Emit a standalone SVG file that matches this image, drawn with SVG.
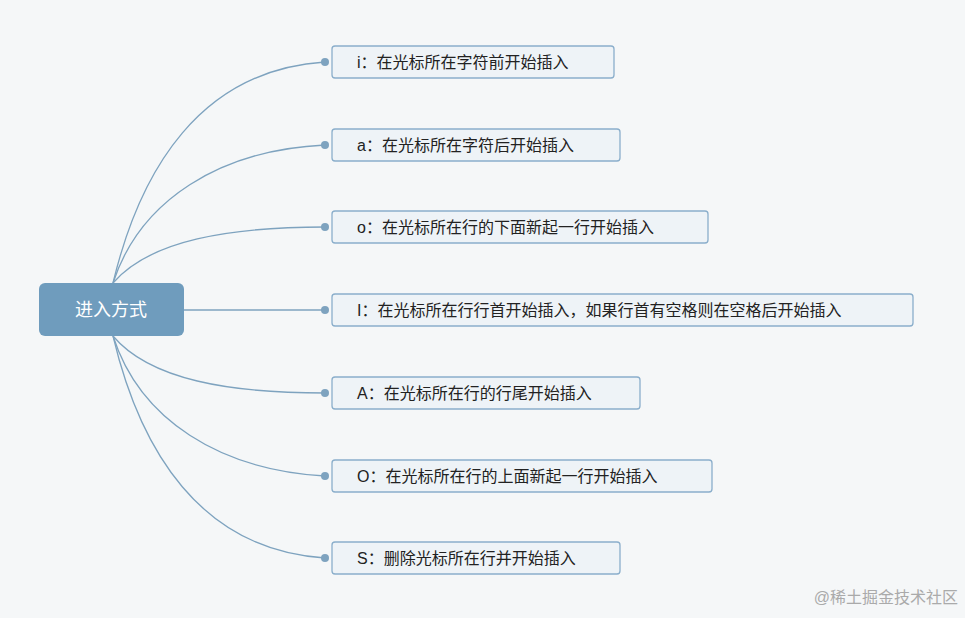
<svg xmlns="http://www.w3.org/2000/svg" width="965" height="618" viewBox="0 0 965 618">
<style>
.bg{fill:#f5f7f8}
.c{fill:none;stroke:#7ea3bf;stroke-width:1.3}
.d{fill:#7ea3bf}
.n rect{fill:#eef3f7;stroke:#8aaecb;stroke-width:1.3}
.n text{font-family:"Liberation Sans","Noto Sans CJK SC",sans-serif;font-size:16px;fill:#222;dominant-baseline:central}
.r rect{fill:#6f9cbd}
.r text{font-family:"Liberation Sans","Noto Sans CJK SC",sans-serif;font-size:18px;fill:#fff;text-anchor:middle;dominant-baseline:central}
</style>
<rect class="bg" width="965" height="618"/>
<g id="connectors">
<path class="c" d="M113,283 C140,170 200,70 325,62"/>
<path class="c" d="M113,283 C140,200 220,150 325,145"/>
<path class="c" d="M113,283 C150,240 230,227 325,227"/>
<path class="c" d="M184,310 L325,310"/>
<path class="c" d="M113,336 C150,380 230,393 325,393"/>
<path class="c" d="M113,336 C140,420 220,470 325,476"/>
<path class="c" d="M113,336 C140,450 200,550 325,558"/>
<circle class="d" cx="325" cy="62" r="4"/>
<circle class="d" cx="325" cy="145" r="4"/>
<circle class="d" cx="325" cy="227" r="4"/>
<circle class="d" cx="325" cy="310" r="4"/>
<circle class="d" cx="325" cy="393" r="4"/>
<circle class="d" cx="325" cy="476" r="4"/>
<circle class="d" cx="325" cy="558" r="4"/>
</g>
<g id="root" class="r"><rect x="39" y="283" width="145" height="53" rx="6"/><text x="111" y="310">进入方式</text></g>
<g id="n1" class="n"><rect x="332" y="46" width="282" height="32" rx="3"/><text x="357" y="62">i：在光标所在字符前开始插入</text></g>
<g id="n2" class="n"><rect x="332" y="129" width="288" height="32" rx="3"/><text x="357" y="145">a：在光标所在字符后开始插入</text></g>
<g id="n3" class="n"><rect x="332" y="211" width="376" height="32" rx="3"/><text x="357" y="227">o：在光标所在行的下面新起一行开始插入</text></g>
<g id="n4" class="n"><rect x="332" y="294" width="581" height="32" rx="3"/><text x="357" y="310">I：在光标所在行行首开始插入，如果行首有空格则在空格后开始插入</text></g>
<g id="n5" class="n"><rect x="332" y="377" width="308" height="32" rx="3"/><text x="357" y="393">A：在光标所在行的行尾开始插入</text></g>
<g id="n6" class="n"><rect x="332" y="460" width="380" height="32" rx="3"/><text x="357" y="476">O：在光标所在行的上面新起一行开始插入</text></g>
<g id="n7" class="n"><rect x="332" y="542" width="288" height="32" rx="3"/><text x="357" y="558">S：删除光标所在行并开始插入</text></g>
<text x="958" y="603" text-anchor="end" font-family="Liberation Sans,Noto Sans CJK SC,sans-serif" font-size="16" fill="#aaa">@稀土掘金技术社区</text>
</svg>
